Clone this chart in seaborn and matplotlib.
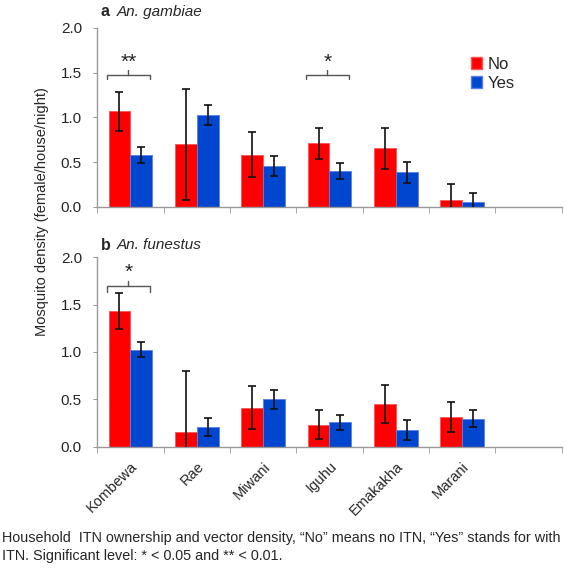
import numpy as np
import pandas as pd
import matplotlib
matplotlib.use("Agg")
import matplotlib.pyplot as plt
import seaborn as sns

sites = ["Kombewa", "Rae", "Miwani", "Iguhu", "Emakakha", "Marani"]
itn = ["No", "Yes"]

# An. gambiae
gam_no = [1.07, 0.70, 0.58, 0.71, 0.655, 0.08]
gam_no_lo = [0.85, 0.08, 0.33, 0.535, 0.425, -0.10]
gam_no_hi = [1.28, 1.32, 0.84, 0.885, 0.88, 0.26]
gam_yes = [0.58, 1.03, 0.46, 0.40, 0.39, 0.055]
gam_yes_lo = [0.49, 0.92, 0.34, 0.31, 0.27, -0.05]
gam_yes_hi = [0.67, 1.14, 0.57, 0.495, 0.505, 0.16]

# An. funestus
fun_no = [1.43, 0.16, 0.41, 0.235, 0.45, 0.31]
fun_no_lo = [1.24, -0.48, 0.19, 0.08, 0.255, 0.16]
fun_no_hi = [1.62, 0.80, 0.64, 0.39, 0.65, 0.47]
fun_yes = [1.02, 0.205, 0.50, 0.26, 0.175, 0.29]
fun_yes_lo = [0.95, 0.11, 0.395, 0.175, 0.07, 0.205]
fun_yes_hi = [1.105, 0.30, 0.60, 0.34, 0.28, 0.39]

colors = {"No": "#ff0000", "Yes": "#0046cf"}
edges = {"No": "#ff5555", "Yes": "#5a80e8"}

sns.set_style("white")
plt.rcParams['font.family'] = ['Liberation Sans', 'DejaVu Sans']

fig = plt.figure(figsize=(5.72, 5.70), dpi=100)
ax_a = fig.add_axes([0.170, 0.637, 0.812, 0.314])
ax_b = fig.add_axes([0.170, 0.216, 0.812, 0.333])


def panel(ax, no, no_lo, no_hi, yes, yes_lo, yes_hi, letter, species, title_y, brackets, labels):
    df = pd.DataFrame({
        "site": sites * 2,
        "ITN": ["No"] * 6 + ["Yes"] * 6,
        "density": no + yes,
    })
    sns.barplot(data=df, x="site", y="density", hue="ITN", order=sites,
                hue_order=itn, palette=colors, width=0.66, ax=ax,
                errorbar=None, saturation=1, legend=False)
    lo = {"No": no_lo, "Yes": yes_lo}
    hi = {"No": no_hi, "Yes": yes_hi}
    val = {"No": no, "Yes": yes}
    centers = {}
    for cont, h in zip(ax.containers, itn):
        xs = []
        for i, p in enumerate(cont.patches):
            p.set_edgecolor(edges[h])
            p.set_linewidth(0.6)
            xc = p.get_x() + p.get_width() / 2
            xs.append((p.get_x(), p.get_x() + p.get_width()))
            v = val[h][i]
            ax.errorbar(xc, v, yerr=[[v - lo[h][i]], [hi[h][i] - v]],
                        fmt="none", ecolor="#111111", elinewidth=1.2,
                        capsize=3, capthick=1.2, zorder=5)
        centers[h] = xs
    for idx, y0, y1, y2, ys, stars in brackets:
        x0 = centers["No"][idx][0] - 0.03
        x1 = centers["Yes"][idx][1] - 0.03
        xm = (x0 + x1) / 2
        ax.plot([x0, x0, x1, x1], [y0, y1, y1, y0], color="#555555", lw=1)
        ax.plot([xm, xm], [y1, y2], color="#555555", lw=1)
        ax.text(xm, ys, stars, ha="center", va="center", fontsize=15, color="#222222")
    ax.set_xlim(-0.5, 6.5)
    ax.set_ylim(0, 2.0)
    ax.set_yticks([0, 0.5, 1.0, 1.5, 2.0])
    ax.set_yticklabels(["0.0", "0.5", "1.0", "1.5", "2.0"], fontsize=11)
    ax.set_xlabel("")
    ax.set_ylabel("")
    ax.set_xticks(range(6))
    if labels:
        ax.set_xticklabels(sites, rotation=45, ha="right", rotation_mode="anchor", fontsize=10.5)
    else:
        ax.set_xticklabels([])
    ax.set_xticks(np.arange(-0.5, 7.0, 1.0), minor=True)
    ax.tick_params(axis="x", which="major", length=0, pad=9)
    ax.tick_params(axis="x", which="minor", length=4, color="#999999", direction="out", bottom=True)
    ax.tick_params(axis="y", length=3, color="#999999", direction="out", left=True, pad=8)
    for s in ["top", "right"]:
        ax.spines[s].set_visible(False)
    for s in ["left", "bottom"]:
        ax.spines[s].set_color("#999999")
        ax.spines[s].set_linewidth(1)
    ax.text(0.008, title_y, letter, transform=ax.transAxes, fontsize=11.5, fontweight="bold",
            ha="left", va="center")
    ax.text(0.043, title_y, species, transform=ax.transAxes, fontsize=11, style="italic",
            ha="left", va="center")


panel(ax_a, gam_no, gam_no_lo, gam_no_hi, gam_yes, gam_yes_lo, gam_yes_hi,
      "a", "An. gambiae", 1.09,
      [(0, 1.43, 1.47, 1.53, 1.62, "**"), (3, 1.43, 1.47, 1.53, 1.62, "*")], False)
panel(ax_b, fun_no, fun_no_lo, fun_no_hi, fun_yes, fun_yes_lo, fun_yes_hi,
      "b", "An. funestus", 1.063,
      [(0, 1.63, 1.70, 1.75, 1.84, "*")], True)

handles = [plt.Rectangle((0, 0), 1, 1, facecolor=colors[h], edgecolor=edges[h]) for h in itn]
ax_a.legend(handles, itn, loc="upper left", bbox_to_anchor=(0.79, 0.875), frameon=False,
            fontsize=12, handlelength=0.7, handleheight=0.7, handletextpad=0.3,
            labelspacing=0.25, borderaxespad=0)

fig.text(0.073, 0.628, "Mosquito density (female/house/night)", rotation=90,
         ha="center", va="center", fontsize=10.5)

fig.text(0.004, 0.012, "Household  ITN ownership and vector density, \u201cNo\u201d means no ITN, "
         "\u201cYes\u201d stands for with\nITN. Significant level: * < 0.05 and ** < 0.01.",
         ha="left", va="bottom", fontsize=10.4, linespacing=1.35)

fig.savefig("out.png", dpi=100)
